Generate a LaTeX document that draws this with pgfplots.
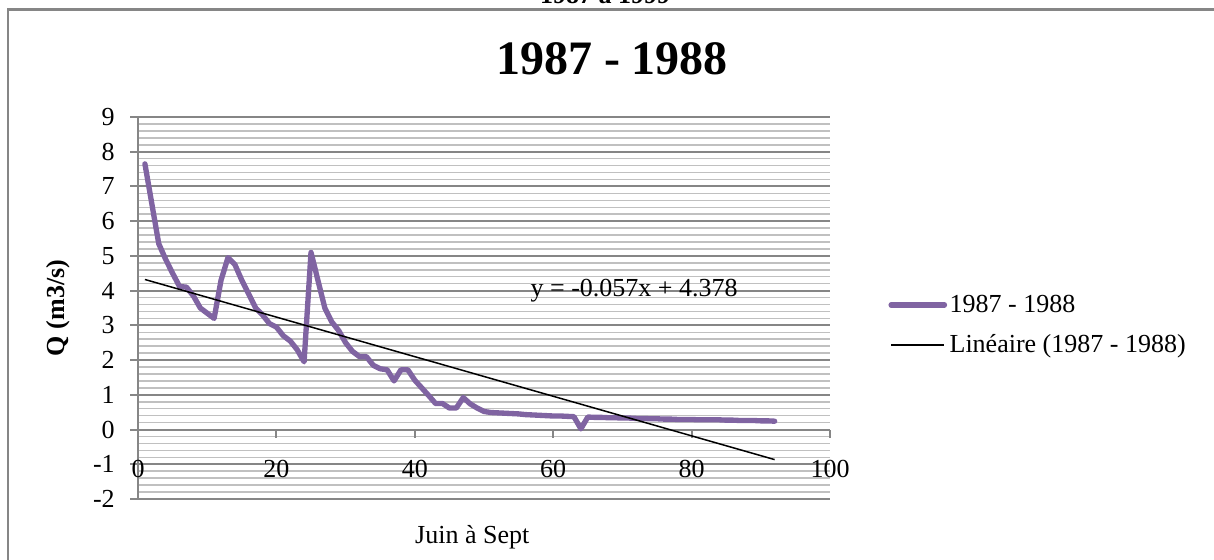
\documentclass[border=0pt]{standalone}
\usepackage{fontspec}
\setmainfont{Liberation Serif}
\usepackage{pgfplots}
\pgfplotsset{compat=1.18}
\definecolor{qpurple}{HTML}{8064A2}
\definecolor{axgray}{HTML}{868686}
\definecolor{mingray}{HTML}{C0C0C0}
\newcommand{\base}{\fontsize{15.6}{18}\selectfont}

% debits juin a sept, 1987 - 1988 (jour, Q)
\pgfplotstableread{
x y
1 7.65
2 6.5
3 5.35
4 4.9
5 4.5
6 4.12
7 4.1
8 3.85
9 3.5
10 3.35
11 3.2
12 4.3
13 4.95
14 4.75
15 4.3
16 3.9
17 3.5
18 3.3
19 3.05
20 2.95
21 2.7
22 2.55
23 2.3
24 1.95
25 5.1
26 4.3
27 3.5
28 3.1
29 2.85
30 2.5
31 2.25
32 2.1
33 2.1
34 1.85
35 1.75
36 1.72
37 1.4
38 1.72
39 1.72
40 1.42
41 1.2
42 0.98
43 0.75
44 0.75
45 0.62
46 0.62
47 0.92
48 0.74
49 0.62
50 0.52
51 0.49
52 0.48
53 0.47
54 0.46
55 0.45
56 0.43
57 0.42
58 0.41
59 0.40
60 0.39
61 0.39
62 0.38
63 0.37
64 0.02
65 0.36
66 0.35
67 0.35
68 0.34
69 0.34
70 0.33
71 0.33
72 0.32
73 0.32
74 0.31
75 0.31
76 0.30
77 0.30
78 0.29
79 0.29
80 0.29
81 0.28
82 0.28
83 0.28
84 0.28
85 0.27
86 0.27
87 0.26
88 0.26
89 0.26
90 0.25
91 0.25
92 0.24
}\debits

\begin{document}
\begin{tikzpicture}
\useasboundingbox (0,0) rectangle (728.4pt,336pt);
\draw[axgray, line width=1.5pt] (4.8pt,-10pt) rectangle (740pt,330.4pt);
\node[anchor=base, font=\base\bfseries] at (363pt,333.6pt) {1987 à 1999};
\node[anchor=base, font=\fontsize{28.8}{34}\selectfont\bfseries] at (367.2pt,291pt) {1987 - 1988};

\begin{axis}[
  at={(82.8pt,36.6pt)}, anchor=south west,
  scale only axis, width=415.2pt, height=229.2pt,
  xmin=0, xmax=100, ymin=-2, ymax=9,
  axis x line=middle, axis y line=left,
  axis line style={draw=axgray, line width=1.2pt, -},
  xtick={20,40,...,100}, ytick={-2,-1,...,9},
  extra x ticks={0}, extra x tick labels={0},
  minor y tick num=4,
  ymajorgrids, yminorgrids,
  major grid style={draw=axgray, line width=1.2pt},
  minor grid style={draw=mingray, line width=0.9pt},
  tick align=outside,
  major tick length=4.8pt, minor tick length=0pt,
  tick style={draw=axgray, line width=1.2pt},
  /pgf/number format/assume math mode=true,
  ticklabel style={font=\base},
  yticklabel style={anchor=east, inner sep=0pt, xshift=-9pt},
  xticklabel style={anchor=center, inner sep=0pt, yshift=-18.6pt},
  xlabel={Juin à Sept},
  xlabel style={font=\base, at={(axis description cs:0.483,-0.0995)}, anchor=center},
  ylabel={Q (m3/s)},
  ylabel style={font=\base\bfseries, at={(axis description cs:-0.1156,0.5)}, anchor=center},
  legend style={draw=none, fill=none, font=\base, at={(axis description cs:1.084,0.455)},
    anchor=west, inner sep=0pt, row sep=9pt, nodes={inner sep=1.5pt}},
  legend cell align=left,
  legend image code/.code={\draw[#1] (0pt,0pt) -- (32pt,0pt);},
]
\addplot[qpurple, line width=3.2pt, line join=round, line cap=round] table[x=x, y=y] {\debits};
\addlegendentry{1987 - 1988}
\addplot[black, line width=0.9pt] coordinates {(1,4.321) (92,-0.866)};
\addlegendentry{Linéaire (1987 - 1988)}
\node[font=\base] at (axis cs:71.7,4.0) {y = -0.057x + 4.378};
\end{axis}
\end{tikzpicture}
\end{document}
